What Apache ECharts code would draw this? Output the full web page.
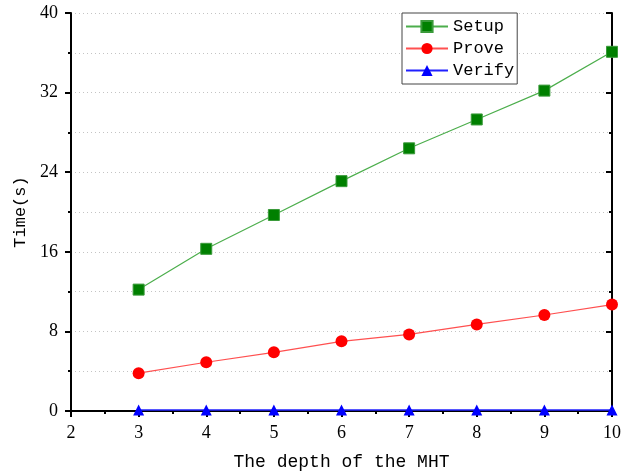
<!DOCTYPE html>
<html>
<head>
<meta charset="utf-8">
<script src="https://cdn.jsdelivr.net/npm/echarts@6/dist/echarts.min.js"></script>
<style>
  html, body { margin: 0; padding: 0; background: #fff; }
  #chart { width: 624px; height: 476px; }
</style>
</head>
<body>
<div id="chart"></div>
<script>
// depth of the Merkle hash tree
var depths = [3, 4, 5, 6, 7, 8, 9, 10];
var setupTime = [12.2, 16.3, 19.7, 23.1, 26.4, 29.3, 32.2, 36.1];
var proveTime = [3.8, 4.9, 5.9, 7.0, 7.7, 8.7, 9.65, 10.7];
var verifyTime = [0.1, 0.1, 0.1, 0.1, 0.1, 0.1, 0.1, 0.1];

var monoFont = "Liberation Mono";
var numFont = "Liberation Serif";

function pairs(ys) {
  return depths.map(function (d, i) { return [d, ys[i]]; });
}

var chart = echarts.init(document.getElementById("chart"));

// shared axis line / tick style
var axisLine = { lineStyle: { color: "#000", width: 2 } };
var gridDots = { color: "#c4c4c4", type: [1, 3], width: 1 };

chart.setOption({
  animation: false,
  backgroundColor: "#fff",
  grid: { left: 71, right: 11, top: 13, bottom: 64 },
  legend: {
    left: 402,
    top: 13,
    orient: "vertical",
    backgroundColor: "#fff",
    borderColor: "#444",
    borderWidth: 1,
    padding: [5, 3, 5, 3],
    itemWidth: 42,
    itemHeight: 14,
    itemGap: 5,
    textStyle: { fontFamily: monoFont, fontSize: 17, color: "#000" },
    data: ["Setup", "Prove", "Verify"]
  },
  xAxis: [
    {
      type: "value",
      min: 2,
      max: 10,
      interval: 1,
      name: "The depth of the MHT",
      nameLocation: "middle",
      nameGap: 42,
      nameTextStyle: { fontFamily: monoFont, fontSize: 18, color: "#000" },
      axisLine: axisLine,
      axisTick: { length: 6, lineStyle: { color: "#000", width: 2 } },
      minorTick: { show: true, splitNumber: 2, length: 3, lineStyle: { color: "#000", width: 2 } },
      axisLabel: { margin: 13, fontFamily: numFont, fontSize: 18, color: "#000" },
      splitLine: { show: false }
    },
    {
      type: "value",
      position: "top",
      min: 2,
      max: 10,
      interval: 1,
      axisLine: axisLine,
      axisTick: { inside: true, length: 6, lineStyle: { color: "#000", width: 2 } },
      minorTick: { show: true, splitNumber: 2, length: 3, lineStyle: { color: "#000", width: 2 } },
      axisLabel: { show: false },
      splitLine: { show: false }
    }
  ],
  yAxis: [
    {
      type: "value",
      min: 0,
      max: 40,
      interval: 8,
      name: "Time(s)",
      nameLocation: "middle",
      nameGap: 42,
      nameTextStyle: { fontFamily: monoFont, fontSize: 17, color: "#000" },
      axisLine: axisLine,
      axisTick: { length: 6, lineStyle: { color: "#000", width: 2 } },
      minorTick: { show: true, splitNumber: 2, length: 3, lineStyle: { color: "#000", width: 2 } },
      axisLabel: { margin: 13, fontFamily: numFont, fontSize: 18, color: "#000" },
      splitLine: { show: true, lineStyle: gridDots },
      minorSplitLine: { show: true, lineStyle: gridDots }
    },
    {
      type: "value",
      position: "right",
      min: 0,
      max: 40,
      interval: 8,
      axisLine: axisLine,
      axisTick: { inside: true, length: 6, lineStyle: { color: "#000", width: 2 } },
      minorTick: { show: true, splitNumber: 2, length: 3, lineStyle: { color: "#000", width: 2 } },
      axisLabel: { show: false },
      splitLine: { show: false }
    }
  ],
  series: [
    {
      name: "Setup",
      type: "line",
      data: pairs(setupTime),
      symbol: "rect",
      symbolSize: 11,
      itemStyle: { color: "#008000", borderColor: "#3a9a3a", borderWidth: 1 },
      lineStyle: { color: "#4cae4c", width: 1.2 },
      z: 3
    },
    {
      name: "Prove",
      type: "line",
      data: pairs(proveTime),
      symbol: "circle",
      symbolSize: 12,
      itemStyle: { color: "#ff0000" },
      lineStyle: { color: "#ff5050", width: 1.2 },
      z: 3
    },
    {
      name: "Verify",
      type: "line",
      data: pairs(verifyTime),
      symbol: "triangle",
      symbolSize: 11,
      itemStyle: { color: "#0000ff" },
      lineStyle: { color: "#2020ff", width: 1.5 },
      z: 4
    }
  ]
});
</script>
</body>
</html>
